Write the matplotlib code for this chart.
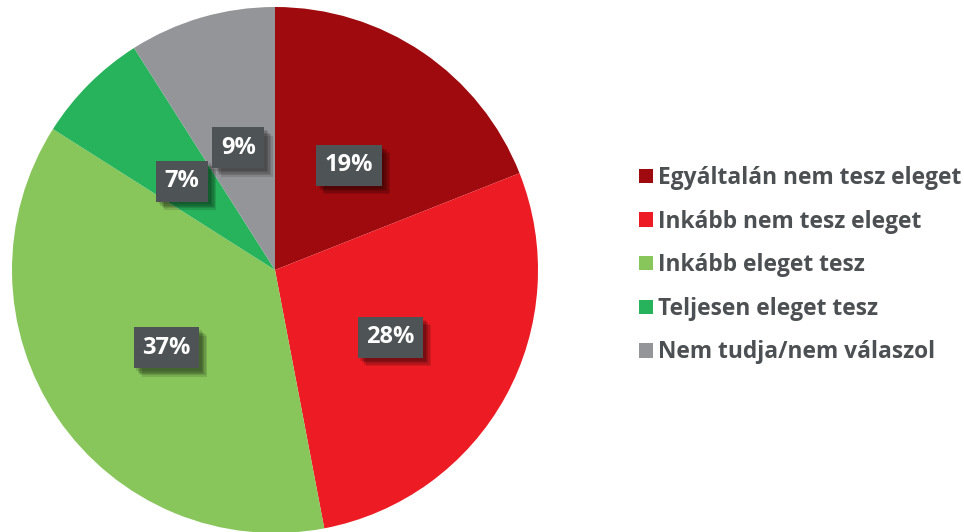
import matplotlib.pyplot as plt
import matplotlib.patheffects as pe
import matplotlib.transforms as mtransforms

# answer categories and shares (%)
labels = ["Egyáltalán nem tesz eleget", "Inkább nem tesz eleget",
          "Inkább eleget tesz", "Teljesen eleget tesz", "Nem tudja/nem válaszol"]
values = [19, 28, 37, 7, 9]
colors = ["#9e0a0e", "#ed1c24", "#88c65c", "#27b35b", "#949599"]

plt.rcParams['font.family'] = ['Open Sans', 'DejaVu Sans']

fig = plt.figure(figsize=(9.64, 5.32), dpi=100)
W, H = 964, 532
cx, cy, r = 275, 532 - 270, 263
ax = fig.add_axes([(cx - r) / W, (cy - r) / H, 2 * r / W, 2 * r / H])

wedges, texts = ax.pie(values, colors=colors, startangle=90, counterclock=False,
                       labels=[f"{v}%" for v in values], labeldistance=0.5,
                       wedgeprops=dict(linewidth=0))
# soft drop shadow made from a few offset layers
shadow = [pe.SimplePatchShadow(offset=(o, -o), shadow_rgbFace="black", alpha=0.12)
          for o in (2, 3, 4, 5, 6)]
nudge = mtransforms.ScaledTranslation(0, -0.04, fig.dpi_scale_trans)
for t in texts:
    t.set_ha("center")
    t.set_va("center")
    t.set_color("white")
    t.set_fontsize(17)
    t.set_fontweight("bold")
    t.set_transform(t.get_transform() + nudge)
    t.set_bbox(dict(boxstyle="square,pad=0.36", facecolor="#4e5355", edgecolor="none"))
    t.get_bbox_patch().set_path_effects(shadow + [pe.Normal()])
ax.set_xlim(-1, 1)
ax.set_ylim(-1, 1)
ax.axis("off")

leg = fig.legend(wedges, labels, loc="upper left",
                 bbox_to_anchor=(639 / W, 1 - 166 / H), frameon=False,
                 handlelength=0.6, handleheight=0.6, handletextpad=0.25,
                 labelspacing=0.86, borderpad=0, borderaxespad=0,
                 prop=dict(size=16.4, weight="bold"))
for t in leg.get_texts():
    t.set_color("#4d5052")

fig.savefig("out.png", dpi=100)
